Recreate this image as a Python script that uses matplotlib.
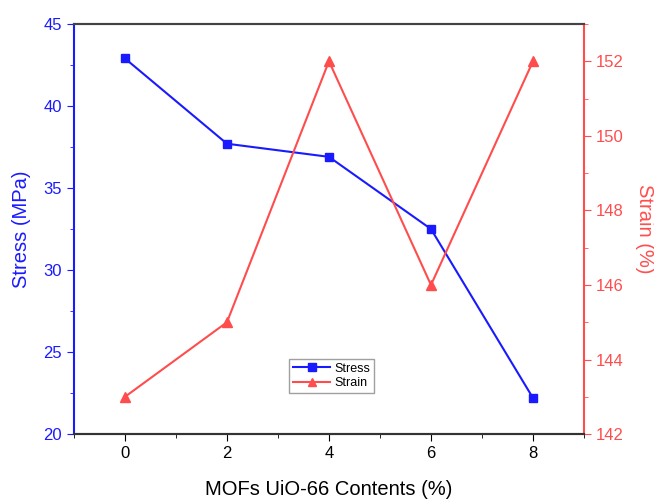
import matplotlib
matplotlib.use('Agg')
import matplotlib.pyplot as plt
from matplotlib.ticker import MultipleLocator

plt.rcParams['font.family'] = ['Liberation Sans', 'DejaVu Sans']

# data
contents = [0, 2, 4, 6, 8]
stress = [42.9, 37.7, 36.9, 32.5, 22.2]
strain = [143, 145, 152, 146, 152]

blue = '#1a1aff'
red = '#ff4d4d'

fig = plt.figure(figsize=(6.54, 4.99), dpi=100)
ax = fig.add_axes([0.113, 0.130, 0.780, 0.822])
ax2 = ax.twinx()

l1, = ax.plot(contents, stress, color=blue, marker='s', markersize=6, linewidth=1.5, label='Stress')
l2, = ax2.plot(contents, strain, color=red, marker='^', markersize=7, linewidth=1.5, label='Strain')

ax.set_xlim(-1, 9)
ax.set_ylim(20, 45)
ax2.set_ylim(142, 153)

ax.xaxis.set_major_locator(MultipleLocator(2))
ax.xaxis.set_minor_locator(MultipleLocator(1))
ax.yaxis.set_major_locator(MultipleLocator(5))
ax.yaxis.set_minor_locator(MultipleLocator(2.5))
ax2.yaxis.set_major_locator(MultipleLocator(2))
ax2.yaxis.set_minor_locator(MultipleLocator(1))

ax.tick_params(axis='x', which='both', direction='out', labelsize=12, colors='black')
ax.tick_params(axis='x', which='major', length=5)
ax.tick_params(axis='x', which='minor', length=3)
ax.tick_params(axis='y', which='major', direction='out', length=5, colors=blue, labelsize=12)
ax.tick_params(axis='y', which='minor', direction='out', length=3, colors=blue)
ax2.tick_params(axis='y', which='major', direction='out', length=5, colors=red, labelsize=12)
ax2.tick_params(axis='y', which='minor', direction='out', length=3, colors=red)

ax.spines['left'].set_color(blue)
ax.spines['left'].set_linewidth(1.5)
ax2.spines['left'].set_visible(False)
ax2.spines['right'].set_color(red)
ax2.spines['right'].set_linewidth(1.5)
ax.spines['right'].set_visible(False)
for a in (ax, ax2):
    a.spines['top'].set_color('#444444')
    a.spines['top'].set_linewidth(1.5)
    a.spines['bottom'].set_color('#333333')
    a.spines['bottom'].set_linewidth(1.5)

ax.set_xlabel('MOFs UiO-66 Contents (%)', fontsize=14.5, labelpad=14)
ax.set_ylabel('Stress (MPa)', fontsize=14.5, color=blue, labelpad=9)
ax2.set_ylabel('Strain (%)', fontsize=14.5, color=red, rotation=270, labelpad=22)

leg = ax.legend(handles=[l1, l2], loc='center', bbox_to_anchor=(0.505, 0.142),
                fontsize=9, frameon=True, fancybox=False, edgecolor='#888888',
                handlelength=3.0, borderpad=0.3, labelspacing=0.2, handletextpad=0.3,
                markerscale=0.9)
leg.get_frame().set_linewidth(1.0)

fig.savefig('out.png', dpi=100)
